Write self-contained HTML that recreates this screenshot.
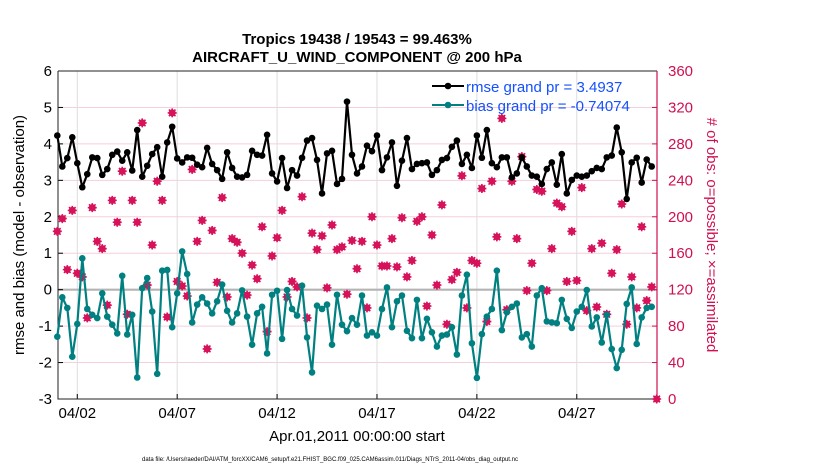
<!DOCTYPE html>
<html><head><meta charset="utf-8"><style>
html,body{margin:0;padding:0;background:#fff;}
svg{display:block;font-family:"Liberation Sans",Arial,sans-serif;}
</style></head><body>
<svg id="chart" width="830" height="470" viewBox="0 0 830 470" xmlns="http://www.w3.org/2000/svg">
<rect width="830" height="470" fill="#fff"/>
<g id="grid"></g>
<g id="axes"></g>
<g id="obs"></g>
<g id="rmse"></g>
<g id="bias"></g>
<text x="357" y="44" text-anchor="middle" font-size="15" font-weight="bold">Tropics 19438 / 19543 = 99.463%</text>
<text x="357" y="62" text-anchor="middle" font-size="15" font-weight="bold">AIRCRAFT_U_WIND_COMPONENT @ 200 hPa</text>
<text transform="translate(24,235) rotate(-90)" text-anchor="middle" font-size="15">rmse and bias (model - observation)</text>
<text transform="translate(707,235) rotate(90)" text-anchor="middle" font-size="15" fill="#d0104f"># of obs: o=possible; ×=assimilated</text>
<text x="357" y="441" text-anchor="middle" font-size="15">Apr.01,2011 00:00:00 start</text>
<text x="330" y="461" text-anchor="middle" font-size="6">data file: /Users/raeder/DAI/ATM_forcXX/CAM6_setup/f.e21.FHIST_BGC.f09_025.CAM6assim.011/Diags_NTrS_2011-04/obs_diag_output.nc</text>
<g>
  <g>
    <line x1="432" y1="86" x2="464" y2="86" stroke="#000" stroke-width="2"/>
    <circle cx="448" cy="86" r="3.3" fill="#000"/>
    <text x="466" y="92" font-size="15" fill="#1450ff">rmse grand pr = 3.4937</text>
  </g>
  <g>
    <line x1="432" y1="105" x2="464" y2="105" stroke="#008080" stroke-width="2"/>
    <circle cx="448" cy="105" r="3.3" fill="#008080"/>
    <text x="466" y="111" font-size="15" fill="#1450ff">bias grand pr = -0.74074</text>
  </g>
</g>
</svg>
<script>
const rmseValues = [4.23,3.38,3.61,4.18,3.47,2.81,3.17,3.63,3.61,3.15,3.31,3.70,3.79,3.54,3.77,3.27,4.38,3.10,3.40,3.72,3.91,3.10,4.04,4.47,3.60,3.49,3.63,3.62,3.43,3.36,3.89,
3.45,3.28,3.04,3.77,3.34,3.10,3.08,3.15,3.81,3.70,3.68,4.25,3.19,2.97,3.61,2.79,3.28,3.13,3.62,4.09,4.16,3.56,2.64,3.74,3.81,2.90,3.04,5.16,3.70,3.19,
3.38,3.95,3.80,4.23,3.28,3.63,4.04,2.85,3.54,4.16,3.31,3.45,3.47,3.49,3.15,3.28,3.56,3.61,3.92,4.09,3.45,3.70,3.34,4.23,3.62,4.38,3.47,3.36,3.63,
3.63,3.08,3.19,3.63,3.38,3.13,3.10,2.90,3.31,3.49,2.88,3.72,2.64,3.01,3.13,3.10,3.13,3.25,3.34,3.31,3.63,3.68,4.45,3.77,2.49,3.49,3.62,2.94,3.57,3.38];
const biasValues = [-1.29,-0.21,-0.50,-1.84,-0.94,0.86,-0.53,-0.69,-0.78,-0.10,-0.74,-0.96,-1.20,0.38,-1.23,-0.69,-2.41,0.04,0.32,-0.60,-2.31,0.52,0.54,-1.03,-0.10,1.05,0.43,-0.90,-0.41,-0.21,-0.38,
-0.65,-0.32,0.14,-0.58,-0.90,-0.65,-0.02,-0.74,-1.51,-0.65,-0.47,-1.75,-0.14,-0.03,-1.35,-0.01,-0.53,-0.71,0.11,-1.31,-2.27,-0.44,-0.53,-0.41,-1.51,-0.14,-0.96,-1.14,-0.78,-0.96,
-0.16,-1.26,-1.17,-1.26,-0.53,0.06,-1.03,-0.32,-0.16,-1.13,-1.33,-0.28,-1.33,-0.80,-1.17,-1.56,-1.26,-1.23,-1.03,-1.78,-0.16,0.41,-1.47,-2.42,-1.22,-0.74,-0.53,0.52,-1.11,
-0.62,-0.47,-0.38,-1.31,-1.22,-1.56,-0.16,0.04,-0.87,-0.90,-0.92,-0.28,-0.80,-1.05,-0.60,-0.47,-0.01,-1.01,-0.76,-1.45,-0.69,-1.63,-2.15,-1.65,-0.39,0.06,-1.49,-0.76,-0.50,-0.47];
const obsCounts = [184,198,142,207,138,134,89,210,173,165,103,218,194,250,93,218,194,303,125,169,239,218,90,314,129,124,113,252,173,196,55,
185,128,221,112,176,172,160,114,147,132,189,74,157,177,207,112,129,123,222,89,182,164,179,122,191,164,167,115,174,143,
173,100,200,169,146,146,176,145,199,134,152,195,200,102,180,125,213,82,131,139,245,100,152,149,231,85,239,178,308,
98,239,176,266,119,149,230,228,119,165,215,211,129,184,130,232,97,165,101,171,93,138,164,214,82,134,100,189,108,123,0];
const yTicks = [-3,-2,-1,0,1,2,3,4,5,6];
const rightTicks = [0,40,80,120,160,200,240,280,320,360];
const dateTickDays = [1,6,11,16,21,26];
const dateTickLabels = ["04/02","04/07","04/12","04/17","04/22","04/27"];
const stepDays = 0.25;

const NS="http://www.w3.org/2000/svg";
const X0=58, X1=657, Y0=71, Y1=399;
function xs(d){return 57.3+d*19.98;}
function ys(v){return Y1-(v+3)/9*(Y1-Y0);}
function yr(c){return Y1-c/360*(Y1-Y0);}
function mk(tag,attrs,parent){const e=document.createElementNS(NS,tag);for(const k in attrs)e.setAttribute(k,attrs[k]);parent.appendChild(e);return e;}
const grid=document.getElementById('grid'), axes=document.getElementById('axes');

yTicks.forEach(t=>{
  const y=ys(t);
  const g=mk('line',{x1:X0,x2:X1,y1:y,y2:y,stroke:'#f5cfdc','stroke-width':1},grid);
  
  
  const tk=mk('line',{x1:X0,x2:X0+5,y1:y,y2:y,stroke:'#000'},axes);
  
  
  const lb=mk('text',{x:X0-6,y:y+5,'text-anchor':'end','font-size':15},axes);
  lb.textContent=t;
  
  
});
rightTicks.forEach(t=>{
  const y=yr(t);
  const tk=mk('line',{x1:X1-5,x2:X1,y1:y,y2:y,stroke:'#d0104f'},axes);
  
  
  const lb=mk('text',{x:X1+11,y:y+5,'font-size':15,fill:'#d0104f'},axes);
  lb.textContent=t;
  
  
});
dateTickDays.forEach((d,i)=>{
  const x=xs(d);
  const g=mk('line',{x1:x,x2:x,y1:Y0,y2:Y1,stroke:'#dddddd','stroke-width':1},grid);
  
  
  const tk=mk('line',{x1:x,x2:x,y1:Y1,y2:Y1-5,stroke:'#000'},axes);
  
  
  const lb=mk('text',{x:x,y:Y1+19,'text-anchor':'middle','font-size':15},axes);
  lb.textContent=dateTickLabels[i];
  
  
});
const zl=mk('line',{x1:X0,x2:X1,y1:ys(0),y2:ys(0),stroke:'#b4b4b4','stroke-width':2.2},grid);


const la=mk('path',{d:`M${X0},${Y0}H${X1}M${X0},${Y0}V${Y1}H${X1}`,stroke:'#222',fill:'none','stroke-width':1},axes);


const ra=mk('line',{x1:X1,x2:X1,y1:Y0,y2:Y1,stroke:'#d0104f','stroke-width':1.2},axes);



// obs markers
const obsG=document.getElementById('obs');
obsCounts.forEach((c,i)=>{
  const x=xs(i*stepDays), y=yr(c);
  const g=mk('g',{},obsG);
  
  
  mk('circle',{cx:x,cy:y,r:3.5,fill:'#d6125a'},g);
  mk('path',{d:`M${x-4.5},${y}H${x+4.5}M${x},${y-4.5}V${y+4.5}M${x-3.3},${y-3.3}L${x+3.3},${y+3.3}M${x-3.3},${y+3.3}L${x+3.3},${y-3.3}`,stroke:'#d6125a','stroke-width':1.6},g);
});

function series(gid,vals,color,name){
  const g=document.getElementById(gid);
  const pts=vals.map((v,i)=>xs(i*stepDays).toFixed(1)+','+ys(v).toFixed(1)).join(' ');
  const pl=mk('polyline',{points:pts,fill:'none',stroke:color,'stroke-width':2.2,'stroke-linejoin':'round'},g);
  
  
  vals.forEach((v,i)=>{
    const c=mk('circle',{cx:xs(i*stepDays),cy:ys(v),r:3.3,fill:color},g);
    
    
  });
}
series('rmse',rmseValues,'#000','rmse');
series('bias',biasValues,'#008080','bias');
</script>
</body></html>
